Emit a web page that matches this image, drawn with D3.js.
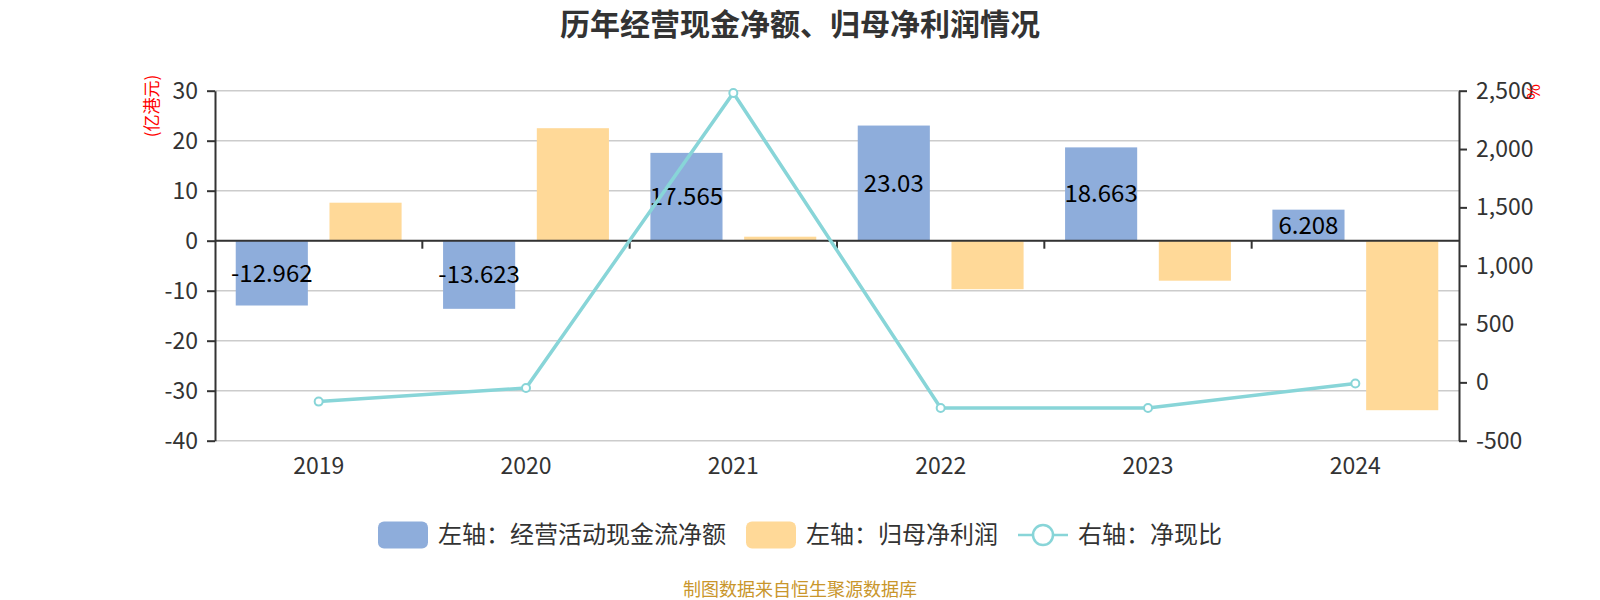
<!DOCTYPE html>
<html>
<head>
<meta charset="utf-8">
<script src="https://cdn.jsdelivr.net/npm/d3@7"></script>
<style>
  body { margin: 0; background: #fff; }
  svg { display: block; font-family: "Noto Sans CJK SC", "Noto Sans", sans-serif; }
</style>
</head>
<body>
<svg id="chart" width="1600" height="600"></svg>
<script>
const years = ["2019", "2020", "2021", "2022", "2023", "2024"];
const cashFlow = [-12.962, -13.623, 17.565, 23.03, 18.663, 6.208];   // 经营活动现金流净额
const netProfit = [7.6, 22.5, 0.8, -9.7, -8.0, -33.9];              // 归母净利润
const cashRatio = [-165, -48, 2481, -219, -219, -9];                 // 净现比 %
const leftTicks = [-40, -30, -20, -10, 0, 10, 20, 30];
const rightTicks = [-500, 0, 500, 1000, 1500, 2000, 2500];
const legendNames = ["左轴：经营活动现金流净额", "左轴：归母净利润", "右轴：净现比"];

const blue = "#8eaddb", orange = "#ffd998", teal = "#88d5d8";
const W = 1600;
const plotLeft = 215, plotRight = 1459, plotTop = 90.7, plotBottom = 440.7;
const hyphen = s => String(s).replace("\u2212", "-");

const svg = d3.select("#chart");

const x = d3.scaleBand().domain(years).range([plotLeft, plotRight]).padding(0);
const bw = x.bandwidth();
const inner = d3.scaleBand().domain(["cf", "np"])
  .range([bw * 0.1, bw * 0.9]).paddingInner(0.3 / 1.3).paddingOuter(0);
const yL = d3.scaleLinear().domain([-40, 30]).range([plotBottom, plotTop]);
const yR = d3.scaleLinear().domain([-500, 2500]).range([plotBottom, plotTop]);

// title
svg.append("text").attr("x", W / 2).attr("y", 35).attr("text-anchor", "middle")
  .attr("font-size", 30).attr("font-weight", "bold").attr("fill", "#333")
  .text("历年经营现金净额、归母净利润情况");

// grid
svg.append("g").selectAll("line").data(leftTicks).join("line")
  .attr("x1", plotLeft).attr("x2", plotRight)
  .attr("y1", d => yL(d)).attr("y2", d => yL(d))
  .attr("stroke", "#ccc").attr("stroke-width", 1.5);

// bars
const groups = svg.append("g").selectAll("g").data(years).join("g")
  .attr("transform", d => `translate(${x(d)},0)`);
groups.append("rect")
  .attr("x", inner("cf")).attr("width", inner.bandwidth())
  .attr("y", (d, i) => yL(Math.max(0, cashFlow[i])))
  .attr("height", (d, i) => Math.abs(yL(cashFlow[i]) - yL(0)))
  .attr("fill", blue);
groups.append("rect")
  .attr("x", inner("np")).attr("width", inner.bandwidth())
  .attr("y", (d, i) => yL(Math.max(0, netProfit[i])))
  .attr("height", (d, i) => Math.abs(yL(netProfit[i]) - yL(0)))
  .attr("fill", orange);
groups.append("text")
  .attr("x", inner("cf") + inner.bandwidth() / 2)
  .attr("y", (d, i) => (yL(cashFlow[i]) + yL(0)) / 2)
  .attr("dy", "0.35em").attr("text-anchor", "middle")
  .attr("font-size", 24).attr("fill", "#000")
  .text((d, i) => cashFlow[i]);

// left axis
const axL = svg.append("g").attr("transform", `translate(${plotLeft},0)`)
  .call(d3.axisLeft(yL).tickValues(leftTicks).tickSize(8).tickSizeOuter(0).tickPadding(9)
    .tickFormat(d => hyphen(d)));
// right axis
const axR = svg.append("g").attr("transform", `translate(${plotRight},0)`)
  .call(d3.axisRight(yR).tickValues(rightTicks).tickSize(8).tickSizeOuter(0).tickPadding(9)
    .tickFormat(d => hyphen(d3.format(",")(d))));
[axL, axR].forEach(a => {
  a.select(".domain").attr("stroke", "#333").attr("stroke-width", 2);
  a.selectAll(".tick line").attr("stroke", "#333").attr("stroke-width", 2);
  a.selectAll(".tick text").attr("font-size", 23).attr("fill", "#333")
    .attr("font-family", "\"Noto Sans CJK SC\", sans-serif");
});

// x axis at zero
const y0 = yL(0);
svg.append("line").attr("x1", plotLeft).attr("x2", plotRight).attr("y1", y0).attr("y2", y0)
  .attr("stroke", "#333").attr("stroke-width", 2);
svg.append("g").selectAll("line").data(years.slice(1)).join("line")
  .attr("x1", d => x(d)).attr("x2", d => x(d))
  .attr("y1", y0).attr("y2", y0 + 8)
  .attr("stroke", "#333").attr("stroke-width", 2);
svg.append("g").selectAll("text").data(years).join("text")
  .attr("x", d => x(d) + bw / 2).attr("y", 466).attr("dy", "0.35em")
  .attr("text-anchor", "middle").attr("font-size", 23).attr("fill", "#333")
  .text(d => d);

// line
const line = d3.line().x((d, i) => x(years[i]) + bw / 2).y(d => yR(d));
svg.append("path").datum(cashRatio).attr("d", line)
  .attr("fill", "none").attr("stroke", teal).attr("stroke-width", 3.5);
svg.append("g").selectAll("circle").data(cashRatio).join("circle")
  .attr("cx", (d, i) => x(years[i]) + bw / 2).attr("cy", d => yR(d)).attr("r", 4)
  .attr("fill", "#fff").attr("stroke", teal).attr("stroke-width", 2);

// axis names
svg.append("text").attr("transform", "translate(158,106) rotate(-90)")
  .attr("text-anchor", "middle").attr("font-size", 17).attr("fill", "red")
  .text("(亿港元)");
svg.append("text").attr("transform", "translate(1540,92) rotate(-90)")
  .attr("text-anchor", "middle").attr("font-size", 17).attr("fill", "red")
  .text("%");

// legend
const lg = svg.append("g");
let cx = 0;
legendNames.forEach((name, i) => {
  const g = lg.append("g");
  if (i < 2) {
    g.append("rect").attr("x", 0).attr("y", -13.5).attr("width", 50).attr("height", 27)
      .attr("rx", 6).attr("fill", i === 0 ? blue : orange);
  } else {
    g.append("line").attr("x1", 0).attr("x2", 50).attr("y1", 0).attr("y2", 0)
      .attr("stroke", teal).attr("stroke-width", 2.5);
    g.append("circle").attr("cx", 25).attr("cy", 0).attr("r", 10)
      .attr("fill", "#fff").attr("stroke", teal).attr("stroke-width", 2.5);
  }
  const t = g.append("text").attr("x", 60).attr("dy", "0.35em")
    .attr("font-size", 24).attr("fill", "#333").text(name);
  const w = 60 + t.node().getComputedTextLength();
  g.attr("transform", `translate(${cx},535)`);
  cx += w + 20;
});
lg.attr("transform", `translate(${(W - (cx - 20)) / 2},0)`);

// footer
svg.append("text").attr("x", W / 2).attr("y", 596).attr("text-anchor", "middle")
  .attr("font-size", 18).attr("fill", "#c9962b")
  .text("制图数据来自恒生聚源数据库");
</script>
</body>
</html>
